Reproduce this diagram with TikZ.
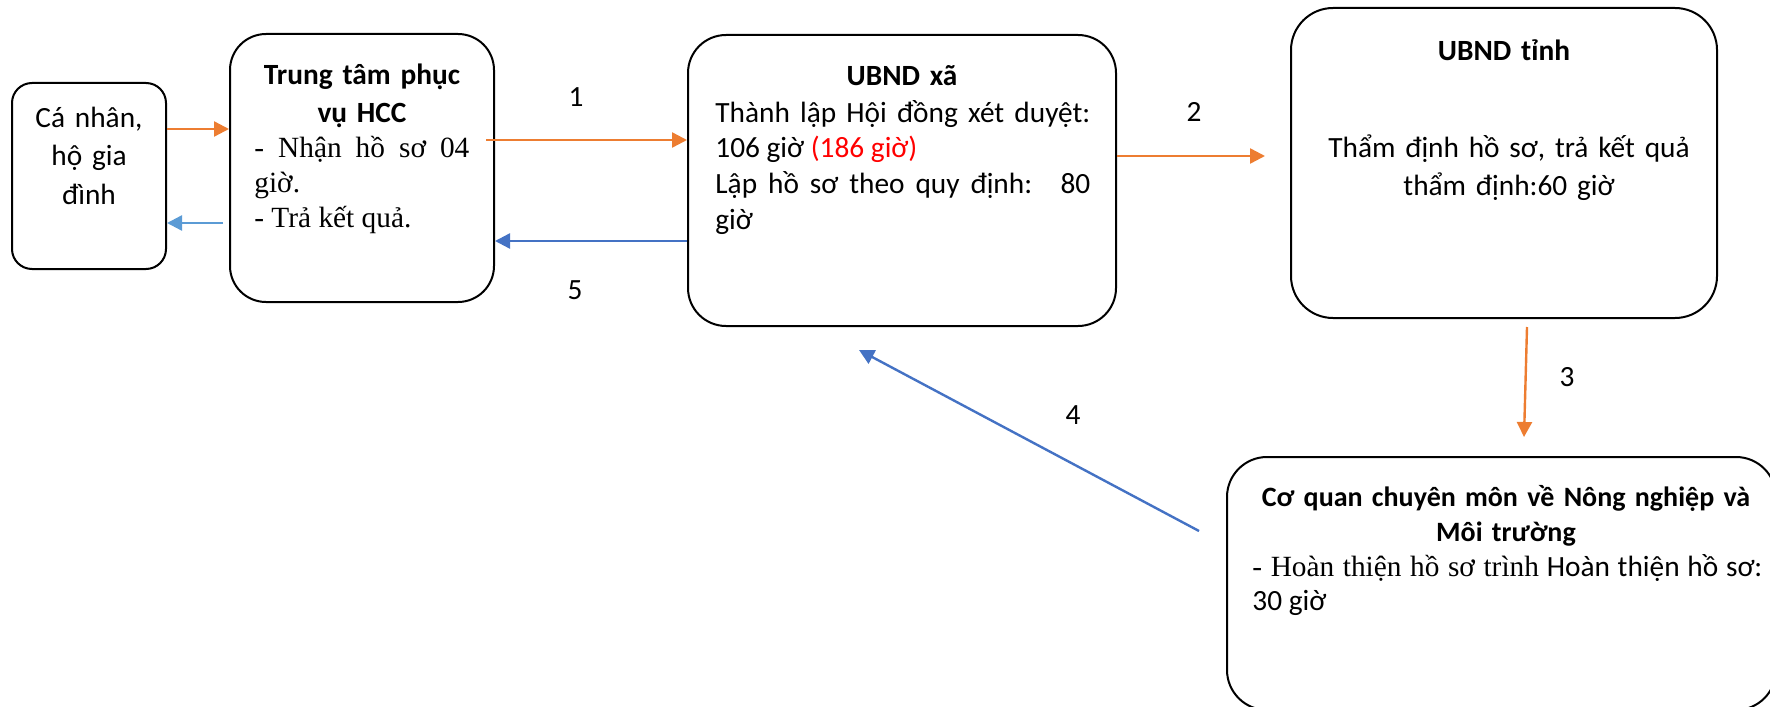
\documentclass[tikz,border=0pt]{standalone}
\usepackage{fontspec}
\setmainfont{Carlito}
\newfontfamily\tnr{Liberation Serif}
\usetikzlibrary{arrows.meta,calc}
\definecolor{orng}{HTML}{ED7D31}
\definecolor{blu}{HTML}{4472C4}
\definecolor{lblu}{HTML}{5B9BD5}
\begin{document}
\begin{tikzpicture}[x=0.5pt,y=-0.5pt,
  box/.style={draw=black,line width=1pt,inner sep=0pt},
  txt/.style={inner sep=0pt,font=\fontsize{14.67}{18}\selectfont},
  ttl/.style={inner sep=0pt,align=center,anchor=base},
  arr/.style={line width=1.2pt,-{Triangle[length=7.5pt,width=7.5pt]}}]
\useasboundingbox (0,0) rectangle (1770,706);
\clip (0,0) rectangle (1770,706);
% boxes
\node[box,rounded corners=10pt,minimum width=77pt,minimum height=93pt] (A) at (89,176) {};
\node[box,rounded corners=18pt,minimum width=132pt,minimum height=134pt] (B) at (362,168) {};
\node[box,rounded corners=19pt,minimum width=214pt,minimum height=145.5pt] (C) at (902,180.5) {};
\node[box,rounded corners=21pt,minimum width=213pt,minimum height=155pt] (D) at (1504,163) {};
\node[box,rounded corners=20pt,minimum width=274.5pt,minimum height=126.5pt] (E) at (1501.5,583.5) {};
% texts
\node[ttl,text width=75pt,font=\fontsize{14.67}{19.25}\selectfont] (At) at (89,127) {Cá nhân,\\hộ gia\\đình};
\node[ttl,text width=130pt,font=\bfseries\fontsize{14.67}{18.5}\selectfont] (Bt) at (362,85) {Trung tâm phục\\vụ HCC};
\node[inner sep=0pt,text width=107.5pt,align=justify,anchor=base west,font=\tnr\fontsize{14.67}{17.6}\selectfont] (Bb) at (254,157) {- Nhận hồ sơ 04\linebreak giờ.\par - Trả kết quả.};
\node[ttl,text width=200pt,font=\bfseries\fontsize{14.67}{18}\selectfont] (Ct) at (902,86) {UBND xã};
\node[inner sep=0pt,text width=187.5pt,align=justify,anchor=base west,font=\fontsize{14.67}{17.9}\selectfont] (Cb) at (715,122) {Thành lập Hội đồng xét duyệt:\linebreak 106 giờ \textcolor{red}{(186 giờ)}\par Lập hồ sơ theo quy định:~ 80\linebreak giờ};
\node[ttl,text width=200pt,font=\bfseries\fontsize{14.67}{18}\selectfont] (Dt) at (1504,61) {UBND tỉnh};
\node[ttl,text width=205pt,font=\fontsize{14.67}{19}\selectfont] (Db) at (1509,157) {Thẩm định hồ sơ, trả kết quả\\thẩm định:60 giờ};
\node[ttl,text width=265pt,font=\bfseries\fontsize{14}{17.5}\selectfont] (Et) at (1506,506) {Cơ quan chuyên môn về Nông nghiệp và\\Môi trường};
\node[inner sep=0pt,text width=255pt,align=justify,anchor=base west,font=\fontsize{14.67}{17}\selectfont] (Eb) at (1252,576) {{\tnr - Hoàn thiện hồ sơ trình} Hoàn thiện hồ sơ:\linebreak 30 giờ};
% labels
\node[txt] (n1) at (576,97) {1};
\node[txt] (n2) at (1194,112) {2};
\node[txt] (n3) at (1567,377) {3};
\node[txt] (n4) at (1073,415) {4};
\node[txt] (n5) at (575,290) {5};
% level coordinates
\coordinate (y1) at (0,129);
\coordinate (y2) at (0,223);
\coordinate (y3) at (0,140);
\coordinate (y4) at (0,241);
\coordinate (y5) at (0,156);
% connectors
\draw[arr,orng] (A.east |- y1) -- (B.west |- y1);
\draw[arr,lblu] ($(B.west |- y2)+(-6,0)$) -- (A.east |- y2);
\draw[arr,orng] ($(B.east |- y3)+(-9,0)$) -- (C.west |- y3);
\draw[arr,blu] (C.west |- y4) -- (B.east |- y4);
\draw[arr,orng] (C.east |- y5) -- ($(D.west |- y5)+(-25,0)$);
\draw[arr,orng] ($(D.south)+(23,8)$) -- ($(E.north)+(22.5,-19)$);
\draw[arr,blu] ($(E.west)+(-27,-52.5)$) -- ($(C.south)+(-43,23)$);
\end{tikzpicture}
\end{document}
